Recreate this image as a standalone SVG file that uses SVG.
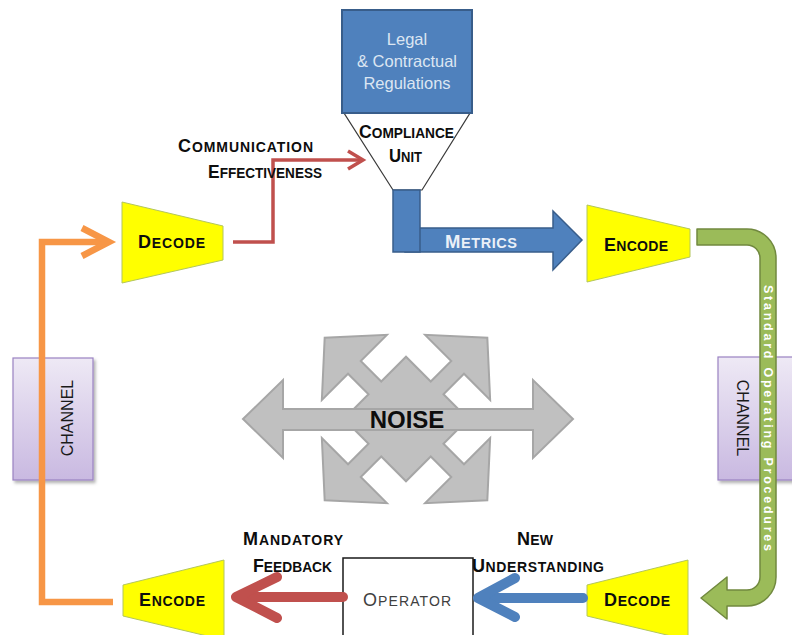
<svg xmlns="http://www.w3.org/2000/svg" width="792" height="635" viewBox="0 0 792 635">
  <defs>
    <linearGradient id="chanFill" x1="0" y1="0" x2="0" y2="1">
      <stop offset="0" stop-color="#EEE9F5"/>
      <stop offset="1" stop-color="#C9B9E1"/>
    </linearGradient>
    <filter id="shadow" x="-20%" y="-20%" width="140%" height="140%">
      <feDropShadow dx="2" dy="2.5" stdDeviation="1.5" flood-color="#000" flood-opacity="0.3"/>
    </filter>
  </defs>
  <style>
    .sc { font-family: "Liberation Sans", Arial, sans-serif; font-weight: bold; fill: #0D0D0D; font-size: 14px; }
    .cap { font-size: 18px; }
    .trap { fill: #FFFF00; stroke: #B3C65C; stroke-width: 1; }
    .chan { fill: url(#chanFill); stroke: #9A82C2; stroke-width: 1.2; filter: url(#shadow); }
    .chanText { font-family: "Liberation Sans", Arial, sans-serif; font-size: 16px; fill: #1A1A1A; }
    .legal { font-family: "Liberation Sans", Arial, sans-serif; font-size: 16.5px; fill: #DCE6F2; text-anchor: middle; }
    .noise { fill: #C0C0C0; stroke: #A6A6A6; stroke-width: 2; stroke-linejoin: miter; }
  </style>

  <rect width="792" height="635" fill="#FFFFFF"/>

  <!-- channel boxes (drawn under the connectors) -->
  <g id="channel-left">
    <rect class="chan" x="13" y="358" width="80" height="122"/>
    <text class="chanText" transform="translate(67,418) rotate(-90)" x="0" y="5.7" text-anchor="middle">CHANNEL</text>
  </g>
  <g id="channel-right">
    <rect class="chan" x="718" y="357" width="82" height="123"/>
    <text class="chanText" transform="translate(743,418) rotate(90)" x="0" y="5.7" text-anchor="middle">CHANNEL</text>
  </g>

  <!-- noise: diagonal quad arrow behind a horizontal double arrow -->
  <g id="noise">
    <polygon class="noise" transform="translate(406,419) rotate(45)"
      points="44,-44 44,-9 73,-9 73,-46 115,0 73,46 73,9 44,9 44,44 9,44 9,73 46,73 0,115 -46,73 -9,73 -9,44 -44,44 -44,9 -73,9 -73,46 -115,0 -73,-46 -73,-9 -44,-9 -44,-44 -9,-44 -9,-73 -46,-73 0,-115 46,-73 9,-73 9,-44"/>
    <polygon class="noise" points="243,419 283,380 283,409 533,409 533,380 573,419 533,458 533,430 283,430 283,458"/>
    <polygon fill="#C0C0C0" points="365,411 447,411 447,428 365,428"/>
    <text x="407" y="428" text-anchor="middle" font-family="Liberation Sans, Arial, sans-serif" font-weight="bold" font-size="24" fill="#0D0D0D">NOISE</text>
  </g>

  <!-- regulations box feeding the compliance funnel -->
  <g id="compliance-unit">
    <polygon points="344,113 470,113 422,190 393,190" fill="#FFFFFF" stroke="#3A3A3A" stroke-width="1.2"/>
    <text class="sc" x="359" y="138" textLength="95" lengthAdjust="spacingAndGlyphs"><tspan class="cap">C</tspan>OMPLIANCE</text>
    <text class="sc" x="389" y="162" textLength="33" lengthAdjust="spacingAndGlyphs"><tspan class="cap">U</tspan>NIT</text>
  </g>
  <g id="legal-regulations">
    <rect x="342" y="10" width="130" height="103" fill="#4F81BD" stroke="#385D8A" stroke-width="2"/>
    <text class="legal" x="407" y="45">Legal</text>
    <text class="legal" x="407" y="67">&amp; Contractual</text>
    <text class="legal" x="407" y="89">Regulations</text>
  </g>

  <!-- encoder / decoder trapezoids -->
  <g id="decode-top-left">
    <polygon class="trap" points="122,202 223,226 223,260 122,283"/>
    <text class="sc" x="138" y="248" textLength="67" lengthAdjust="spacing"><tspan class="cap">D</tspan>ECODE</text>
  </g>
  <g id="encode-top-right">
    <polygon class="trap" points="587,205 690,229 690,257 587,282"/>
    <text class="sc" x="604" y="251" textLength="64" lengthAdjust="spacing"><tspan class="cap">E</tspan>NCODE</text>
  </g>
  <g id="encode-bottom-left">
    <polygon class="trap" points="123,585 224,560 224,640 123,616"/>
    <text class="sc" x="139" y="606" textLength="66" lengthAdjust="spacing"><tspan class="cap">E</tspan>NCODE</text>
  </g>
  <g id="decode-bottom-right">
    <polygon class="trap" points="587,585 688,560 688,640 587,616"/>
    <text class="sc" x="604" y="606" textLength="66" lengthAdjust="spacing"><tspan class="cap">D</tspan>ECODE</text>
  </g>

  <g id="operator">
    <rect x="343" y="558" width="130" height="90" fill="#FFFFFF" stroke="#1A1A1A" stroke-width="1.5"/>
    <text x="363" y="606" textLength="88" lengthAdjust="spacing" font-family="Liberation Sans, Arial, sans-serif" font-size="14" fill="#404040"><tspan font-size="18">O</tspan>PERATOR</text>
  </g>

  <!-- connectors -->
  <g id="connectors">
    <!-- communication effectiveness: decode to compliance unit -->
    <g fill="none" stroke="#C0504D" stroke-width="3.5">
      <polyline points="233,242 273,242 273,160 360,160"/>
      <polyline points="348,151 363,160 348,169"/>
    </g>
    <text class="sc" x="178" y="152" textLength="135" lengthAdjust="spacing"><tspan class="cap">C</tspan>OMMUNICATION</text>
    <text class="sc" x="208" y="178" textLength="114" lengthAdjust="spacingAndGlyphs"><tspan class="cap">E</tspan>FFECTIVENESS</text>

    <!-- metrics: compliance unit to encoder -->
    <polygon points="405,228 553,228 553,211 582,240 553,270 553,252 405,252" fill="#4F81BD" stroke="#385D8A" stroke-width="1.5"/>
    <rect x="393" y="190" width="27" height="62" fill="#4F81BD" stroke="#385D8A" stroke-width="1.5"/>
    <text x="445" y="248" textLength="72" lengthAdjust="spacing" font-family="Liberation Sans, Arial, sans-serif" font-weight="bold" font-size="14.5" fill="#EAF0F8"><tspan font-size="18.5">M</tspan>ETRICS</text>

    <!-- standard operating procedures: encoder down to decoder -->
    <path d="M697,229 H747 A29,29 0 0 1 776,258 V577 A29,29 0 0 1 747,606 H727 V619 L701,598 L727,577 V590 H747 A13,13 0 0 0 760,577 V258 A13,13 0 0 0 747,245 H697 Z" fill="#9BBB59" stroke="#71893F" stroke-width="1.5" stroke-linejoin="round"/>
    <text transform="translate(768,418) rotate(90)" x="0" y="4.5" text-anchor="middle" textLength="266" lengthAdjust="spacing" font-family="Liberation Sans, Arial, sans-serif" font-weight="bold" font-size="12.5" fill="#FFFFFF">Standard  Operating  Procedures</text>

    <!-- new understanding: decoder to operator -->
    <g fill="none" stroke="#4F81BD" stroke-width="10" stroke-linecap="round" stroke-linejoin="round">
      <line x1="583" y1="598" x2="482" y2="598"/>
      <polyline points="515,578 478,598 515,617"/>
    </g>
    <text class="sc" x="517" y="545" textLength="36" lengthAdjust="spacing"><tspan class="cap">N</tspan>EW</text>
    <text class="sc" x="472" y="572" textLength="132" lengthAdjust="spacing"><tspan class="cap">U</tspan>NDERSTANDING</text>

    <!-- mandatory feedback: operator to encoder -->
    <g fill="none" stroke="#C0504D" stroke-width="10" stroke-linecap="round" stroke-linejoin="round">
      <line x1="343" y1="597" x2="240" y2="597"/>
      <polyline points="277,577 236,597 277,618"/>
    </g>
    <text class="sc" x="243" y="545" textLength="100" lengthAdjust="spacing"><tspan class="cap">M</tspan>ANDATORY</text>
    <text class="sc" x="253" y="572" textLength="79" lengthAdjust="spacingAndGlyphs"><tspan class="cap">F</tspan>EEDBACK</text>

    <!-- return channel: encoder back up to decoder -->
    <g fill="none" stroke="#F79646" stroke-width="6.5">
      <polyline points="113,602 42,602 42,242 106,242"/>
      <polyline points="82,228 109,242 82,256"/>
    </g>
  </g>
</svg>
